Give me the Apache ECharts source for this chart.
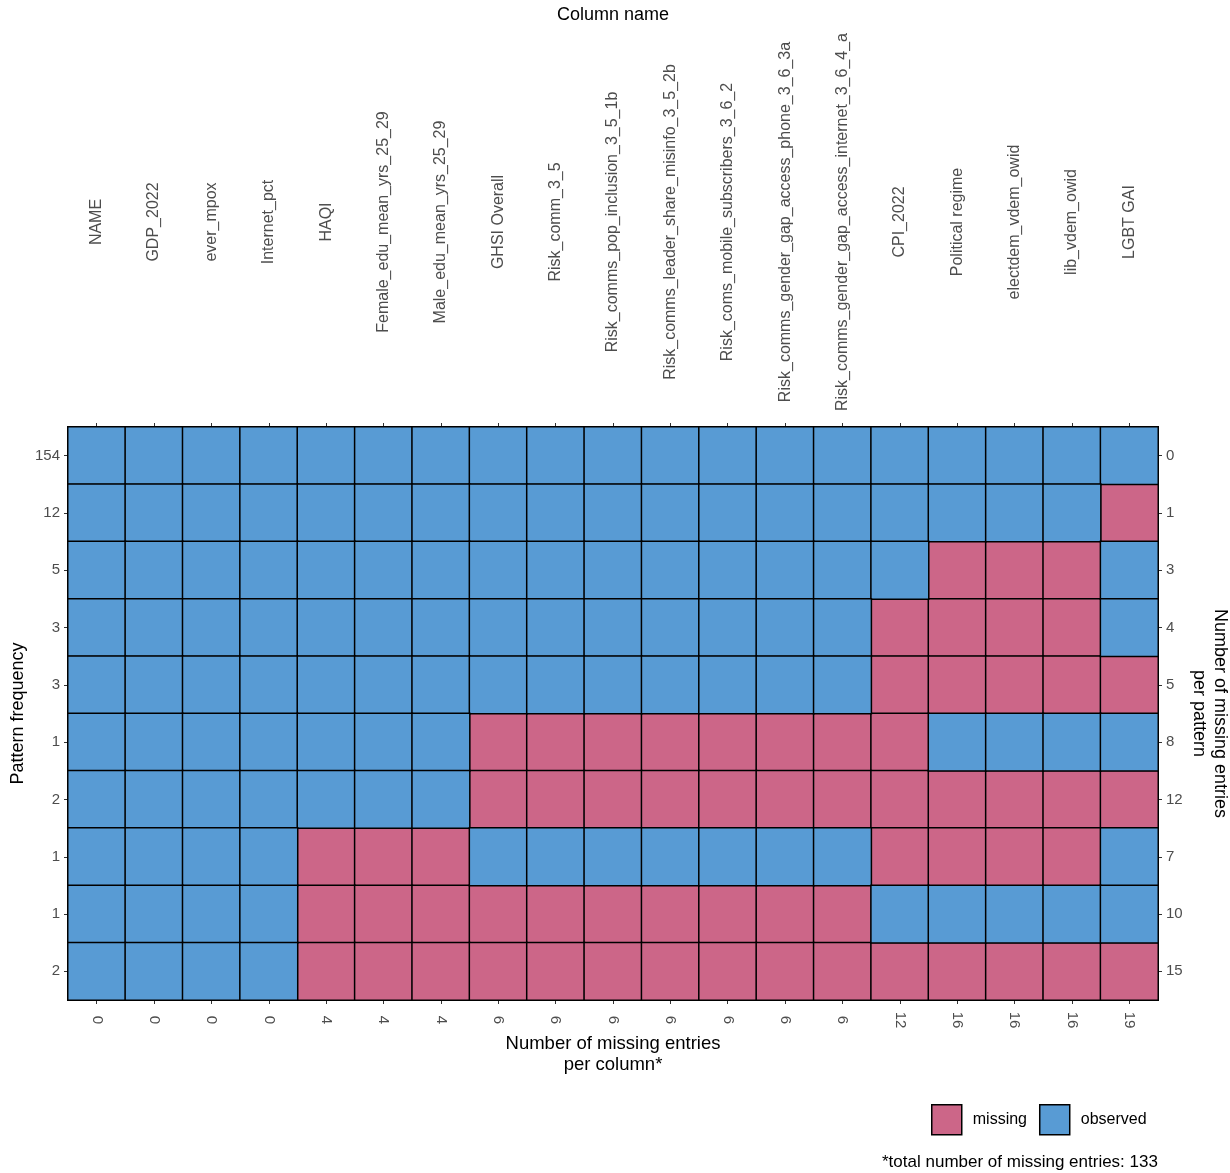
<!DOCTYPE html>
<html>
<head>
<meta charset="utf-8">
<script src="https://cdn.jsdelivr.net/npm/echarts@6/dist/echarts.min.js"></script>
<style>html,body{margin:0;padding:0;background:#fff;overflow:hidden;}#chart{width:1230px;height:1173px;}</style>
</head>
<body>
<div id="chart"></div>
<script>
// ---- data ----
var columnNames = ['NAME','GDP_2022','ever_mpox','Internet_pct','HAQI','Female_edu_mean_yrs_25_29','Male_edu_mean_yrs_25_29','GHSI Overall','Risk_comm_3_5','Risk_comms_pop_inclusion_3_5_1b','Risk_comms_leader_share_misinfo_3_5_2b','Risk_coms_mobile_subscribers_3_6_2','Risk_comms_gender_gap_access_phone_3_6_3a','Risk_comms_gender_gap_access_internet_3_6_4_a','CPI_2022','Political regime','electdem_vdem_owid','lib_vdem_owid','LGBT GAI'];
var missingPerColumn = ['0','0','0','0','4','4','4','6','6','6','6','6','6','6','12','16','16','16','19'];
var patternFrequency = ['154','12','5','3','3','1','2','1','1','2'];
var missingPerPattern = ['0','1','3','4','5','8','12','7','10','15'];
// 1 = observed, 0 = missing (rows top to bottom)
var patterns = [
  [1,1,1,1,1,1,1,1,1,1,1,1,1,1,1,1,1,1,1],
  [1,1,1,1,1,1,1,1,1,1,1,1,1,1,1,1,1,1,0],
  [1,1,1,1,1,1,1,1,1,1,1,1,1,1,1,0,0,0,1],
  [1,1,1,1,1,1,1,1,1,1,1,1,1,1,0,0,0,0,1],
  [1,1,1,1,1,1,1,1,1,1,1,1,1,1,0,0,0,0,0],
  [1,1,1,1,1,1,1,0,0,0,0,0,0,0,0,1,1,1,1],
  [1,1,1,1,1,1,1,0,0,0,0,0,0,0,0,0,0,0,0],
  [1,1,1,1,0,0,0,1,1,1,1,1,1,1,0,0,0,0,1],
  [1,1,1,1,0,0,0,0,0,0,0,0,0,0,1,1,1,1,1],
  [1,1,1,1,0,0,0,0,0,0,0,0,0,0,0,0,0,0,0]
];
var totalMissing = 133;

var missingData = [], observedData = [];
patterns.forEach(function (row, r) {
  row.forEach(function (v, c) {
    if (v === 1) observedData.push([c, r, 1]); else missingData.push([c, r, 0]);
  });
});
function idx(n){ var a=[]; for (var i=0;i<n;i++) a.push(String(i)); return a; }

var FONT = 'Liberation Sans, Arial, sans-serif';
var tickColor = '#333333';
var labColor = '#4d4d4d';

var chart = echarts.init(document.getElementById('chart'), null, {renderer:'canvas'});
chart.setOption({
  backgroundColor: '#ffffff',
  animation: false,
  textStyle: {fontFamily: FONT},
  grid: {left: 68, right: 72, top: 427, bottom: 173, containLabel: false, outerBoundsMode: 'none'},
  legend: {
    left: 931, top: 1104, padding: 0,
    itemWidth: 30, itemHeight: 30, itemGap: 12,
    icon: 'rect',
    itemStyle: {borderColor: '#000', borderWidth: 1.5},
    textStyle: {fontFamily: FONT, fontSize: 16, color: '#000', padding: [0,0,0,6]},
    data: ['missing','observed'],
    selectedMode: false
  },
  title: {
    text: '*total number of missing entries: ' + totalMissing,
    left: 882, top: 1154,
    padding: 0,
    textStyle: {fontFamily: FONT, fontSize: 17, fontWeight: 'normal', color: '#000'}
  },
  xAxis: [{
    type: 'category', position: 'top', data: columnNames,
    name: 'Column name', nameLocation: 'middle', nameGap: 403,
    nameTextStyle: {fontFamily: FONT, fontSize: 18, color: '#000'},
    axisLine: {show: false},
    axisTick: {show: true, alignWithLabel: true, length: 4, lineStyle: {color: tickColor}},
    axisLabel: {interval: 0, rotate: -90, align: 'center', verticalAlign: 'middle', margin: 205, fontFamily: FONT, fontSize: 16, color: labColor},
    splitLine: {show: false}
  }, {
    type: 'category', position: 'bottom', data: idx(columnNames.length),
    name: 'Number of missing entries\nper column*', nameLocation: 'middle', nameGap: 33,
    nameTextStyle: {fontFamily: FONT, fontSize: 18.5, color: '#000', lineHeight: 21},
    axisLine: {show: false},
    axisTick: {show: true, alignWithLabel: true, length: 4, lineStyle: {color: tickColor}},
    axisLabel: {interval: 0, rotate: -90, align: 'center', verticalAlign: 'middle', margin: 20, fontFamily: FONT, fontSize: 15, color: labColor,
      formatter: function (v, i) { return missingPerColumn[i]; }},
    splitLine: {show: false}
  }],
  yAxis: [{
    type: 'category', position: 'left', inverse: true, data: idx(patternFrequency.length),
    name: 'Pattern frequency', nameLocation: 'middle', nameRotate: 90, nameGap: 50,
    nameMoveOverlap: false,
    nameTextStyle: {fontFamily: FONT, fontSize: 18, color: '#000', align: 'center', verticalAlign: 'middle'},
    axisLine: {show: false},
    axisTick: {show: true, alignWithLabel: true, length: 4, lineStyle: {color: tickColor}},
    axisLabel: {interval: 0, margin: 8, fontFamily: FONT, fontSize: 15, color: labColor,
      formatter: function (v, i) { return patternFrequency[i]; }},
    splitLine: {show: false}
  }, {
    type: 'category', position: 'right', inverse: true, data: idx(missingPerPattern.length),
    name: 'Number of missing entries\nper pattern', nameLocation: 'middle', nameRotate: -90, nameGap: 51,
    nameMoveOverlap: false,
    nameTextStyle: {fontFamily: FONT, fontSize: 18, color: '#000', lineHeight: 21, align: 'center', verticalAlign: 'middle'},
    axisLine: {show: false},
    axisTick: {show: true, alignWithLabel: true, length: 4, lineStyle: {color: tickColor}},
    axisLabel: {interval: 0, margin: 8, fontFamily: FONT, fontSize: 15, color: labColor,
      formatter: function (v, i) { return missingPerPattern[i]; }},
    splitLine: {show: false}
  }],
  series: [{
    name: 'missing', type: 'heatmap', xAxisIndex: 0, yAxisIndex: 0,
    data: missingData,
    itemStyle: {color: '#CC6688', borderColor: '#000', borderWidth: 1.5},
    emphasis: {disabled: true}, label: {show: false}
  }, {
    name: 'observed', type: 'heatmap', xAxisIndex: 0, yAxisIndex: 0,
    data: observedData,
    itemStyle: {color: '#589BD4', borderColor: '#000', borderWidth: 1.5},
    emphasis: {disabled: true}, label: {show: false}
  }]
});
</script>
</body>
</html>
